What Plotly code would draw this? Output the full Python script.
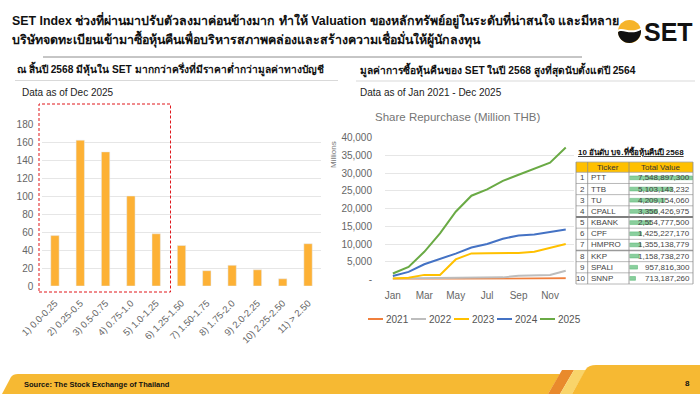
import plotly.graph_objects as go

W, H = 700, 394
def X(p): return p / W
def Y(p): return 1 - p / H

FONT = "Liberation Sans, Arial, sans-serif"

# ---------------- data ----------------
pbv_bins = ["1) 0.0-0.25", "2) 0.25-0.5", "3) 0.5-0.75", "4) 0.75-1.0", "5) 1.0-1.25",
            "6) 1.25-1.50", "7) 1.50-1.75", "8) 1.75-2.0", "9) 2.0-2.25", "10) 2.25-2.50", "11) > 2.50"]
stock_counts = [56, 162, 149, 100, 58, 45, 17, 23, 18, 8, 47]
left_yticks = [0, 20, 40, 60, 80, 100, 120, 140, 160, 180]

months = ["Jan", "Feb", "Mar", "Apr", "May", "Jun", "Jul", "Aug", "Sep", "Oct", "Nov", "Dec"]
month_ticks = ["Jan", "Mar", "May", "Jul", "Sep", "Nov"]
repurchase_2021 = [30, 50, 60, 80, 90, 100, 110, 120, 130, 150, 180, 320]
repurchase_2022 = [250, 300, 350, 380, 450, 500, 550, 600, 1050, 1150, 1250, 2450]
repurchase_2023 = [300, 500, 1300, 1300, 5650, 7350, 7400, 7450, 7500, 7800, 8800, 10000]
repurchase_2024 = [1000, 2150, 4300, 5700, 7300, 9000, 10000, 11500, 12400, 12700, 13300, 14100]
repurchase_2025 = [1700, 3560, 7800, 13000, 19100, 23600, 25400, 27800, 29500, 31100, 32900, 37200]
years = ["2021", "2022", "2023", "2024", "2025"]
year_colors = ["#F07F3C", "#BDBDBD", "#FFC000", "#4472C4", "#6AAA45"]
right_yticks = [0, 5000, 10000, 15000, 20000, 25000, 30000, 35000, 40000]

top_tickers = ["PTT", "TTB", "TU", "CPALL", "KBANK", "CPF", "HMPRO", "KKP", "SPALI", "SNNP"]
top_values = [7548897300, 5103143232, 4209154060, 3356426975, 2554777500,
              1425227170, 1355138779, 1158738270, 957816300, 713187260]

series = [repurchase_2021, repurchase_2022, repurchase_2023, repurchase_2024, repurchase_2025]

fig = go.Figure()

# left bar chart
fig.add_trace(go.Bar(x=pbv_bins, y=stock_counts, marker=dict(color="#FDB135"),
                     xaxis="x", yaxis="y", showlegend=False, hoverinfo="x+y"))

# right line chart
for yr, col, vals in zip(years, year_colors, series):
    fig.add_trace(go.Scatter(x=months, y=vals, mode="lines", name=yr,
                             line=dict(color=col, width=2), xaxis="x2", yaxis="y2",
                             showlegend=False))

# table data bars
fig.add_trace(go.Bar(x=top_values, y=top_tickers, orientation="h",
                     marker=dict(color="#8ACF9D", line=dict(color="#5DBB78", width=0.6)),
                     xaxis="x3", yaxis="y3", showlegend=False))

grid = "#E6E6E6"
tick_font = dict(family=FONT, size=10, color="#666666")

fig.update_layout(
    width=W, height=H, margin=dict(l=0, r=0, t=0, b=0, autoexpand=False),
    paper_bgcolor="white", plot_bgcolor="white",
    bargap=0.67,
    xaxis=dict(domain=[X(42.3), X(320.7)], tickangle=-45, tickfont=dict(family=FONT, size=9.5, color="#666666"),
               showgrid=False, showline=False, zeroline=False, ticks="", automargin=False,
               ticklabelstandoff=9),
    yaxis=dict(domain=[Y(286), Y(124)], range=[0, 180], tickvals=left_yticks,
               tickfont=tick_font, gridcolor=grid, showline=False, zeroline=False,
               ticks="", ticklabelstandoff=8, automargin=False),
    xaxis2=dict(domain=[X(385), X(573.6)], anchor="y2", type="category",
                range=[-0.5, 11.5], tickvals=month_ticks, tickfont=tick_font,
                showgrid=False, showline=False, zeroline=False, ticks="", automargin=False,
                ticklabelstandoff=8),
    yaxis2=dict(domain=[Y(279.5), Y(137.5)], anchor="x2", range=[0, 40000],
                tickvals=right_yticks,
                ticktext=["-" if v == 0 else f"{v:,}" for v in right_yticks],
                tickfont=tick_font, gridcolor=grid, showline=False, zeroline=False,
                ticks="", ticklabelstandoff=12, automargin=False),
    xaxis3=dict(domain=[X(629.5), X(693)], anchor="y3", range=[0, max(top_values) * 1.005],
                visible=False, automargin=False),
    yaxis3=dict(domain=[Y(284), Y(172.3)], anchor="x3", range=[len(top_tickers) - 0.5, -0.5],
                type="category", visible=False, automargin=False),
)

shapes = []
ann = []

def txt(x, y, s, size, color="#000", bold=False, xanchor="left", yanchor="middle", **kw):
    d = dict(x=X(x), y=Y(y), xref="paper", yref="paper", text=(f"<b>{s}</b>" if bold else s),
             showarrow=False, xanchor=xanchor, yanchor=yanchor,
             font=dict(family=FONT, size=size, color=color))
    d.update(kw)
    ann.append(d)

def hline(x0, x1, y, color, width=1, dash=None):
    shapes.append(dict(type="line", xref="paper", yref="paper", x0=X(x0), x1=X(x1),
                       y0=Y(y), y1=Y(y), line=dict(color=color, width=width, dash=dash)))

def vline(x, y0, y1, color, width=1):
    shapes.append(dict(type="line", xref="paper", yref="paper", x0=X(x), x1=X(x),
                       y0=Y(y0), y1=Y(y1), line=dict(color=color, width=width)))

def rect(x0, y0, x1, y1, fill=None, line=None, width=1, dash=None, layer="above"):
    shapes.append(dict(type="rect", xref="paper", yref="paper", x0=X(x0), x1=X(x1),
                       y0=Y(y1), y1=Y(y0), fillcolor=fill or "rgba(0,0,0,0)",
                       line=dict(color=line or "rgba(0,0,0,0)", width=width if line else 0, dash=dash),
                       layer=layer))

def path(pts_cmds, fill, line=None, lw=0):
    shapes.append(dict(type="path", xref="paper", yref="paper", path=pts_cmds,
                       fillcolor=fill, line=dict(color=line or fill, width=lw)))

def P(x, y):
    return f"{X(x):.5f},{Y(y):.5f}"

# ---------- header ----------
txt(10, 20, "SET Index ช่วงที่ผ่านมาปรับตัวลงมาค่อนข้างมาก ทำให้ Valuation ของหลักทรัพย์อยู่ในระดับที่น่าสนใจ และมีหลาย",
    12.4, "#111", bold=True)
txt(10, 39, "บริษัทจดทะเบียนเข้ามาซื้อหุ้นคืนเพื่อบริหารสภาพคล่องและสร้างความเชื่อมั่นให้ผู้นักลงทุน",
    12.4, "#111", bold=True)
hline(43, 582, 57, "#8C8C8C", 1)

# SET logo
shapes.append(dict(type="circle", xref="paper", yref="paper", x0=X(618), x1=X(641), y0=Y(43), y1=Y(20),
                   fillcolor="#F6B42A", line=dict(width=0)))
path("M " + P(618, 32) + " C " + P(623, 27) + " " + P(629, 36) + " " + P(641, 29)
     + " C " + P(642, 38) + " " + P(635, 43) + " " + P(629.5, 43)
     + " C " + P(623, 43) + " " + P(618, 38) + " " + P(618, 32) + " Z", "#111111")
path("M " + P(617, 30.5) + " C " + P(623, 25.5) + " " + P(629, 34.5) + " " + P(642, 27.5)
     + " L " + P(642, 29.5) + " C " + P(629, 36.5) + " " + P(623, 27.5) + " " + P(617, 32.5) + " Z", "white")
txt(642, 32, "SET", 25, "#111", bold=True)

# ---------- left panel ----------
txt(15, 69, "ณ สิ้นปี 2568 มีหุ้นใน SET มากกว่าครึ่งที่มีราคาต่ำกว่ามูลค่าทางบัญชี", 10.2, "#111", bold=True)
hline(15, 338, 80.5, "#D9D9D9", 1)
txt(20, 92, "Data as of Dec 2025", 10, "#222")
rect(39, 104, 170.5, 292, line="#E0161B", width=1, dash="3px,2px")

# ---------- right panel ----------
txt(358, 70, "มูลค่าการซื้อหุ้นคืนของ SET ในปี 2568 สูงที่สุดนับตั้งแต่ปี 2564", 10.2, "#111", bold=True)
hline(356, 695, 81, "#D9D9D9", 1)
txt(358, 92, "Data as of Jan 2021 - Dec 2025", 10, "#222")
txt(373, 117, "Share Repurchase (Million THB)", 11.5, "#757575")
txt(333, 155, "Millions", 8, "#757575", xanchor="center", textangle=-90)

# custom legend
leg_x = [368, 411, 454, 497, 540]
for lx, yr, col in zip(leg_x, years, year_colors):
    hline(lx, lx + 15, 319, col, 2)
    txt(lx + 16, 319, yr, 10, "#555555")

# ---------- table ----------
tx0, tx1, tx2, tx3 = 576, 587.7, 629, 693
ty_head0, ty_head1, ty_end = 162, 172.3, 284
txt(576, 152, "<u>10 อันดับ บจ.ที่ซื้อหุ้นคืนปี 2568</u>", 8, "#111", bold=True)
rect(tx0, ty_head0, tx3, ty_head1, fill="#FFC000", layer="below")
txt((tx1 + tx2) / 2, (ty_head0 + ty_head1) / 2, "Ticker", 8, "#333", xanchor="center")
txt((tx2 + tx3) / 2, (ty_head0 + ty_head1) / 2, "Total Value", 8, "#333", xanchor="center")
n = len(top_tickers)
rh = (ty_end - ty_head1) / n
for i in range(n + 1):
    yy = ty_head1 + i * rh
    hline(tx0, tx3, yy, "#A6A6A6", 0.8)
hline(tx0, tx3, ty_head0, "#A6A6A6", 0.8)
hline(tx0, tx3, ty_head1 + 4 * rh, "#222222", 1.2)
hline(tx0, tx3, ty_head1 + 7 * rh, "#9A9A9A", 1.6)
for xx in (tx0, tx1, tx2, tx3):
    vline(xx, ty_head0, ty_end, "#8C8C8C", 0.8)
for i, (tk, v) in enumerate(zip(top_tickers, top_values)):
    ann.append(dict(x=X(tx1 - 0.8), y=tk, xref="paper", yref="y3", text=str(i + 1), showarrow=False,
                    xanchor="right", yanchor="middle", font=dict(family=FONT, size=8, color="#444")))
    ann.append(dict(x=X(tx1 + 1), y=tk, xref="paper", yref="y3", text=tk, showarrow=False,
                    xanchor="left", yanchor="middle", font=dict(family=FONT, size=8, color="#444")))
    ann.append(dict(x=X(tx3 - 1.5), y=tk, xref="paper", yref="y3", text=f"{v:,}", showarrow=False,
                    xanchor="right", yanchor="middle", font=dict(family=FONT, size=8, color="#444")))

# ---------- footer ----------
path("M " + P(2, 394) + " L " + P(11, 377) + " Q " + P(13, 374) + " " + P(18, 374)
     + " L " + P(560, 374) + " L " + P(548, 394) + " Z", "#F6B933")
path("M " + P(548, 394) + " L " + P(562, 370) + " L " + P(574, 370) + " L " + P(560, 394) + " Z", "#E98A2C")
path("M " + P(560, 394) + " L " + P(574, 370) + " L " + P(586, 370) + " L " + P(572, 394) + " Z", "#F9D46A")
path("M " + P(572, 394) + " L " + P(586, 369) + " Q " + P(589, 365) + " " + P(596, 365)
     + " L " + P(700, 365) + " L " + P(700, 394) + " Z", "#F6B933")
txt(22, 384, "Source: The Stock Exchange of Thailand", 7.5, "#111", bold=True)
txt(683, 383, "8", 8, "#111", bold=True)

fig.update_layout(shapes=shapes, annotations=ann)
fig.write_html("out.html")
